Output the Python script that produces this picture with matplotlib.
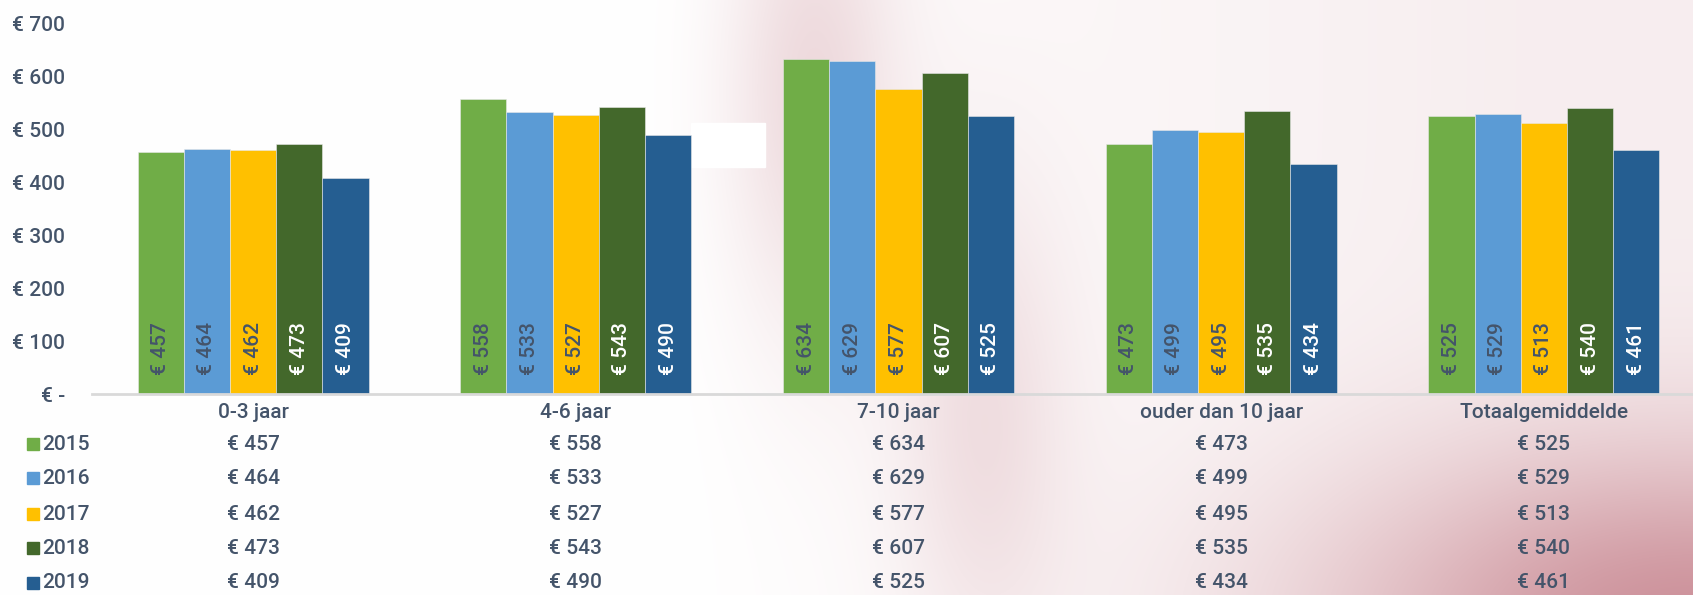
import numpy as np
from matplotlib import pyplot as plt
from matplotlib import transforms
from matplotlib.patches import Rectangle

categories = ['0-3 jaar', '4-6 jaar', '7-10 jaar', 'ouder dan 10 jaar', 'Totaalgemiddelde']
years = ['2015', '2016', '2017', '2018', '2019']
values = {
    '2015': [457, 558, 634, 473, 525],
    '2016': [464, 533, 629, 499, 529],
    '2017': [462, 527, 577, 495, 513],
    '2018': [473, 543, 607, 535, 540],
    '2019': [409, 490, 525, 434, 461],
}
colors = ['#70AD47', '#5B9BD5', '#FFC000', '#43682B', '#255E91']
label_colors = ['#44546A', '#44546A', '#44546A', 'white', 'white']
yticks = [0, 100, 200, 300, 400, 500, 600, 700]

TEXT = '#44546A'
plt.rcParams['font.family'] = ['Roboto', 'DejaVu Sans']
plt.rcParams['font.weight'] = 'medium'


def euro(v):
    return '€ -' if v == 0 else f'€ {v}'


def main():
    fig = plt.figure(figsize=(16.93, 5.95), dpi=100)

    # soft pink photo-like background on the right
    bg = fig.add_axes([0, 0, 1, 1], zorder=-1)
    h, w = 300, 850
    yy, xx = np.mgrid[0:1:h * 1j, 0:1:w * 1j]
    pink = np.clip((xx - 0.4) / 0.5, 0, 1) * 0.14
    pink += 0.75 * np.exp(-(((xx - 1.0) / 0.22) ** 2 + ((yy - 1.05) / 0.3) ** 2))
    pink += 0.28 * np.exp(-(((xx - 0.48) / 0.05) ** 2 + ((yy - 0.15) / 0.4) ** 2))
    pink += 0.22 * np.exp(-(((xx - 0.58) / 0.05) ** 2 + ((yy - 0.7) / 0.4) ** 2))
    pink = np.clip(pink, 0, 1)
    tint = np.array([0.78, 0.52, 0.56])
    img = 1 - pink[..., None] * (1 - tint)
    bg.imshow(img, extent=[0, 1, 0, 1], aspect='auto', interpolation='bilinear')
    bg.add_patch(Rectangle((0.408, 0.719), 0.044, 0.074, color='white', transform=bg.transAxes))
    bg.set_xlim(0, 1)
    bg.set_ylim(0, 1)
    bg.axis('off')

    ax = fig.add_axes([0.0542, 0.3378, 0.953, 0.6222])
    ax.patch.set_alpha(0)
    x = np.arange(len(categories))
    n = len(years)
    width = 0.716 / n
    for i, yr in enumerate(years):
        pos = x + (i - (n - 1) / 2) * width
        ax.bar(pos, values[yr], width, color=colors[i], edgecolor='#E8E8E8', linewidth=0.4)
        for p, v in zip(pos, values[yr]):
            ax.annotate(f'€ {v}', (p, 0), xytext=(0, 14), textcoords='offset points',
                        rotation=90, ha='center', va='bottom', fontsize=15,
                        color=label_colors[i])

    ax.set_xlim(-0.5, len(categories) - 0.5)
    ax.set_ylim(0, 700)
    ax.set_yticks(yticks)
    ax.set_yticklabels([euro(v) for v in yticks])
    ax.set_xticks([])
    ax.tick_params(axis='y', length=0, pad=19, labelsize=15, labelcolor=TEXT)
    for s in ['top', 'right', 'left']:
        ax.spines[s].set_visible(False)
    ax.spines['bottom'].set_color('#D9D9D9')
    ax.spines['bottom'].set_linewidth(2)

    # data table under the chart
    tr = transforms.blended_transform_factory(ax.transData, fig.transFigure)
    for c, cat in zip(x, categories):
        ax.text(c, 1 - 412 / 595, cat, transform=tr, ha='center', va='center',
                fontsize=15, color=TEXT)
    row_y = [444, 478, 514, 548, 583]
    for i, yr in enumerate(years):
        fy = 1 - row_y[i] / 595
        fig.patches.append(Rectangle((27 / 1693, fy - 6 / 595), 12 / 1693, 12 / 595,
                                     color=colors[i], transform=fig.transFigure, figure=fig))
        fig.text(42 / 1693, fy, yr, ha='left', va='center', fontsize=15, color=TEXT)
        for c, v in zip(x, values[yr]):
            ax.text(c, fy, f'€ {v}', transform=tr, ha='center', va='center',
                    fontsize=15, color=TEXT)

    fig.savefig('out.png', dpi=100)


if __name__ == '__main__':
    main()
